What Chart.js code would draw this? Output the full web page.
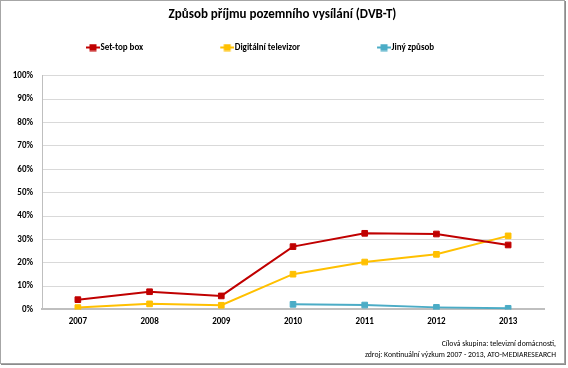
<!DOCTYPE html>
<html><head><meta charset="utf-8">
<script src="https://cdn.jsdelivr.net/npm/chart.js@4/dist/chart.umd.min.js"></script>
<style>
html,body{margin:0;padding:0;background:#fff;}
#wrap{position:relative;width:568px;height:368px;overflow:hidden;}
#frame{position:absolute;left:0;top:0;width:563px;height:362px;border:1px solid #a6a6a6;box-shadow:1px 1px 0 #8c8c8c;pointer-events:none;}
canvas{position:absolute;left:0;top:0;}
</style></head><body>
<div id="wrap"><canvas id="c" width="568" height="368"></canvas><div id="frame"></div></div>
<script>
// ---- data ----
const categories = ['2007', '2008', '2009', '2010', '2011', '2012', '2013'];
const seriesNames = ['Set-top box', 'Digitální televizor', 'Jiný způsob'];
const setTopBox = [4.2, 7.6, 5.8, 26.9, 32.6, 32.3, 27.6];
const digitalTV = [0.8, 2.4, 1.8, 15.1, 20.3, 23.6, 31.5];
const otherWay  = [null, null, null, 2.2, 1.9, 0.9, 0.5];
const yTickMin = 0, yTickMax = 100, yTickStep = 10;
const titleText = 'Způsob příjmu pozemního vysílání (DVB-T)';
const footnoteLines = ['Cílová skupina: televizní domácnosti,', 'zdroj: Kontinuální výzkum 2007 - 2013, ATO-MEDIARESEARCH'];
const seriesColors = ['#C00000', '#FFC000', '#4BACC6'];

// ---- style ----
const FONT = 'Carlito, "Liberation Sans Narrow", "DejaVu Sans Condensed", "Liberation Sans", sans-serif';
Chart.defaults.font.family = FONT;
Chart.defaults.color = '#000';
const LEG_BOX = 44;

function legendIcon(color) {
  const c = document.createElement('canvas');
  c.width = LEG_BOX + 8; c.height = 8;
  const g = c.getContext('2d');
  g.strokeStyle = color; g.lineWidth = 2;
  g.beginPath(); g.moveTo(c.width - 14, 4); g.lineTo(c.width, 4); g.stroke();
  g.fillStyle = color; g.fillRect(c.width - 10.5, 0.5, 7, 7);
  return c;
}
const icons = seriesColors.map(legendIcon);

const seriesValues = [setTopBox, digitalTV, otherWay];
const datasets = seriesNames.map((name, i) => ({
  label: name,
  data: seriesValues[i],
  borderColor: seriesColors[i],
  backgroundColor: seriesColors[i],
  borderWidth: 2,
  pointStyle: 'rect',
  pointRadius: 4,
  pointBorderWidth: 1,
  pointBackgroundColor: seriesColors[i],
  pointBorderColor: seriesColors[i],
  tension: 0,
  fill: false
}));

new Chart(document.getElementById('c'), {
  type: 'line',
  data: { labels: categories, datasets },
  options: {
    responsive: false,
    animation: false,
    layout: { padding: { left: 9, right: 12, top: 0, bottom: 0 } },
    plugins: {
      tooltip: { enabled: false },
      legend: {
        position: 'top',
        align: 'start',
        weight: 3000,
        labels: {
          usePointStyle: true,
          pointStyleWidth: LEG_BOX,
          padding: 43,
          font: { size: 9, weight: 'bold' },
          generateLabels(chart) {
            const items = Chart.defaults.plugins.legend.labels.generateLabels(chart);
            items.forEach((it, i) => { it.pointStyle = icons[i]; });
            return items;
          }
        }
      },
      title: {
        display: true,
        text: titleText,
        font: { size: 13, weight: 'bold', lineHeight: 1.2 },
        padding: { top: -54.8, bottom: 53 }
      },
      subtitle: {
        display: true,
        position: 'bottom',
        align: 'end',
        text: footnoteLines,
        font: { size: 7.7, weight: 'normal', lineHeight: 1.43 },
        padding: { top: 5, bottom: 7.5 }
      }
    },
    scales: {
      x: {
        offset: true,
        grid: { display: false, drawTicks: false, offset: true },
        border: { display: true, color: '#BFBFBF', width: 2 },
        ticks: { font: { size: 9, weight: 'bold' }, padding: 7, maxRotation: 0 },
        afterFit(s) { s.height = 24; }
      },
      y: {
        min: yTickMin, max: yTickMax,
        grid: { color: '#D9D9D9', lineWidth: 1, drawTicks: false },
        border: { display: true, color: '#BFBFBF', width: 1 },
        ticks: {
          stepSize: yTickStep, padding: 9, autoSkip: false,
          font: { size: 9, weight: 'bold' },
          callback: v => v + '%'
        },
        afterFit(s) { s.width = 33; }
      },
      y2: {
        type: 'linear', position: 'right', display: true,
        grid: { display: false, drawTicks: false },
        border: { display: false },
        ticks: { display: false },
        afterFit(s) { s.width = 12; }
      }
    }
  }
});
</script>
</body></html>
